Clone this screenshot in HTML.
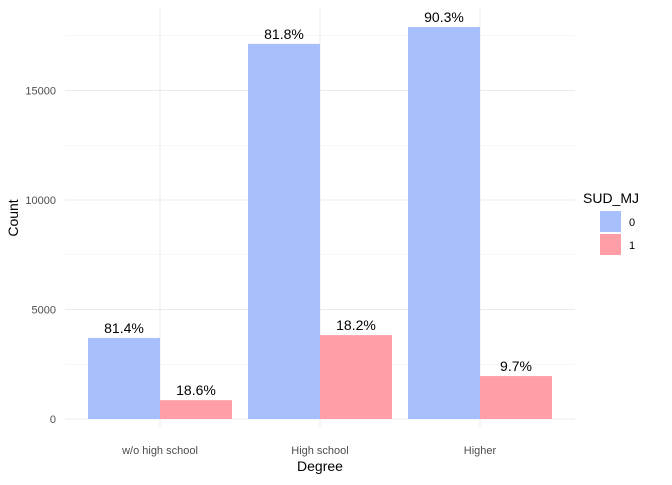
<!DOCTYPE html>
<html><head><meta charset="utf-8"><style>
body{margin:0;background:#fff;font-family:"Liberation Sans",sans-serif}
</style></head><body>
<svg id="c" width="672" height="480" xmlns="http://www.w3.org/2000/svg"></svg>
<script>
const categories=["w/o high school","High school","Higher"];
const series0=[3700,17130,17900];
const series1=[860,3830,1960];
const labels0=["81.4%","81.8%","90.3%"];
const labels1=["18.6%","18.2%","9.7%"];
const yTicks=[0,5000,10000,15000];
const NS="http://www.w3.org/2000/svg";
const svg=document.getElementById('c');
const y=v=>419-v*0.0219;
const xc=i=>160+i*160;
function mk(t,a,p){const e=document.createElementNS(NS,t);for(const k in a)e.setAttribute(k,a[k]);(p||svg).appendChild(e);return e;}
// minor grid
for(let v=2500;v<=17500;v+=5000){const l=mk('line',{x1:65,x2:575,y1:y(v),y2:y(v),stroke:'#f2f2f2','stroke-width':0.6});

}
yTicks.forEach(v=>{const l=mk('line',{x1:65,x2:575,y1:y(v),y2:y(v),stroke:'#ebebeb','stroke-width':1.1});


const t=mk('text',{x:56,y:y(v)+4,'text-anchor':'end','font-size':11,fill:'#4d4d4d'});t.textContent=v;

});
categories.forEach((c,i)=>{const l=mk('line',{x1:xc(i),x2:xc(i),y1:8,y2:427,stroke:'#ebebeb','stroke-width':1.1});

});
categories.forEach((c,i)=>{
 const b0=mk('rect',{x:xc(i)-72,y:y(series0[i]),width:72,height:y(0)-y(series0[i]),fill:'#a8bffd'});
 
 
 const b1=mk('rect',{x:xc(i),y:y(series1[i]),width:72,height:y(0)-y(series1[i]),fill:'#ff9ea6'});
 
 
 const t0=mk('text',{x:xc(i)-36,y:y(series0[i])-5,'text-anchor':'middle','font-size':14,fill:'#000'});t0.textContent=labels0[i];
 
 
 const t1=mk('text',{x:xc(i)+36,y:y(series1[i])-5,'text-anchor':'middle','font-size':14,fill:'#000'});t1.textContent=labels1[i];
 
 
 const xl=mk('text',{x:xc(i),y:454,'text-anchor':'middle','font-size':11,fill:'#4d4d4d'});xl.textContent=c;
 
 
});
const xt=mk('text',{x:320,y:471,'text-anchor':'middle','font-size':14,fill:'#000'});xt.textContent='Degree';


const yt=mk('text',{x:0,y:0,'text-anchor':'middle','font-size':14,fill:'#000',transform:'translate(18,218) rotate(-90)'});yt.textContent='Count';


const lt=mk('text',{x:583,y:203,'font-size':14,fill:'#000'});lt.textContent='SUD_MJ';


[['#a8bffd','0',211],['#ff9ea6','1',234]].forEach(([col,lab,yy])=>{
 const r=mk('rect',{x:600,y:yy,width:21,height:21,fill:col});
 
 
 const t=mk('text',{x:629,y:yy+15,'font-size':11,fill:'#000'});t.textContent=lab;
 
 
});
</script>
</body></html>
